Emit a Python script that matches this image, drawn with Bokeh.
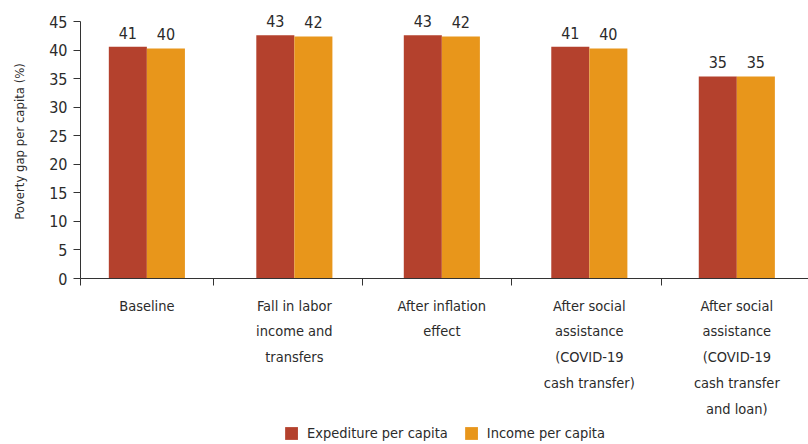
import numpy as np
from bokeh.plotting import figure
from bokeh.layouts import column
from bokeh.models import ColumnDataSource, FixedTicker, Range1d, Legend, LegendItem
from bokeh.core.properties import value
from bokeh.embed import file_html
from bokeh.resources import INLINE

categories = [
    "Baseline",
    "Fall in labor\nincome and\ntransfers",
    "After inflation\neffect",
    "After social\nassistance\n(COVID-19\ncash transfer)",
    "After social\nassistance\n(COVID-19\ncash transfer\nand loan)",
]
expenditure = [40.6, 42.6, 42.6, 40.6, 35.4]
income = [40.3, 42.4, 42.4, 40.3, 35.4]
series_names = ["Expediture per capita", "Income per capita"]
y_ticks = [0, 5, 10, 15, 20, 25, 30, 35, 40, 45]

FONT = "'Liberation Sans Narrow', 'DejaVu Sans Condensed', sans-serif"
TXT = "#2b2b2b"
RED = "#B4412D"
ORANGE = "#E8961B"

idx = np.arange(len(categories))
bw = 0.258
xr = Range1d(-0.45, 4.486)

# ---------------- main chart ----------------
p = figure(frame_width=728, frame_height=274, output_backend="svg", toolbar_location=None,
           x_range=xr, y_range=Range1d(0, 48),
           min_border_left=80, min_border_right=0, min_border_top=4, min_border_bottom=12)
p.outline_line_color = None
p.xgrid.grid_line_color = None
p.ygrid.grid_line_color = None

src_e = ColumnDataSource(dict(x=idx - bw / 2, top=expenditure,
                              lab=[str(int(round(v))) for v in expenditure]))
src_i = ColumnDataSource(dict(x=idx + bw / 2, top=income,
                              lab=[str(int(round(v))) for v in income]))

p.vbar(x="x", top="top", width=bw, source=src_e, fill_color=RED, line_color=None)
p.vbar(x="x", top="top", width=bw, source=src_i, fill_color=ORANGE, line_color=None)

for s in (src_e, src_i):
    p.text(x="x", y="top", text="lab", source=s, text_align="center",
           text_baseline="alphabetic", y_offset=-14, text_font=value(FONT),
           text_font_size="16px", text_color=TXT)

ya = p.yaxis[0]
ya.ticker = FixedTicker(ticks=y_ticks)
ya.bounds = (0, 45)
ya.axis_label = "Poverty gap per capita (%)"
ya.axis_label_text_font = FONT
ya.axis_label_text_font_size = "13px"
ya.axis_label_text_font_style = "normal"
ya.axis_label_text_color = TXT
ya.axis_label_standoff = 19
ya.major_label_text_font = FONT
ya.major_label_text_font_size = "16px"
ya.major_label_text_color = TXT
ya.major_label_standoff = 6
ya.major_tick_out = 7
ya.major_tick_in = 0
ya.minor_tick_line_color = None
ya.axis_line_color = "#333333"
ya.major_tick_line_color = "#333333"

# x axis: only the boundary ticks between categories
xa = p.xaxis[0]
xa.ticker = FixedTicker(ticks=[], minor_ticks=[-0.45, 0.45, 1.46, 2.47, 3.49])
xa.major_label_standoff = 0
xa.major_tick_out = 0
xa.major_tick_in = 0
xa.minor_tick_out = 7
xa.minor_tick_in = 0
xa.axis_line_color = "#333333"
xa.minor_tick_line_color = "#333333"

# ---------------- category labels + legend ----------------
p2 = figure(frame_width=728, frame_height=154, output_backend="svg", toolbar_location=None,
            x_range=xr, y_range=Range1d(0, 1),
            x_axis_location=None, y_axis_location=None,
            min_border_left=80, min_border_right=0, min_border_top=0, min_border_bottom=0)
p2.outline_line_color = None
p2.xgrid.grid_line_color = None
p2.ygrid.grid_line_color = None

p2.text(x=idx, y=1, text=categories, text_align="center", text_baseline="top",
        y_offset=7, text_line_height=1.61, text_font=value(FONT),
        text_font_size="14.5px", text_color=TXT)

# hidden copies of the series, used only as legend keys
k1 = p2.vbar(x="x", top="top", width=bw, source=src_e, fill_color=RED, line_color=None)
k2 = p2.vbar(x="x", top="top", width=bw, source=src_i, fill_color=ORANGE, line_color=None)
k1.visible = False
k2.visible = False

legend = Legend(items=[LegendItem(label=series_names[0], renderers=[k1]),
                       LegendItem(label=series_names[1], renderers=[k2])],
                orientation="horizontal", location="bottom_center")
legend.label_text_font = FONT
legend.label_text_font_size = "14.5px"
legend.label_text_color = TXT
legend.glyph_width = 16
legend.glyph_height = 16
legend.label_height = 16
legend.label_standoff = 8
legend.spacing = 15
legend.padding = 0
legend.margin = 3
legend.border_line_color = None
legend.background_fill_alpha = 0
legend.inactive_fill_alpha = 0
p2.add_layout(legend, "center")

layout = column(p, p2, spacing=0)
open("out.html", "w").write(file_html(layout, INLINE))
